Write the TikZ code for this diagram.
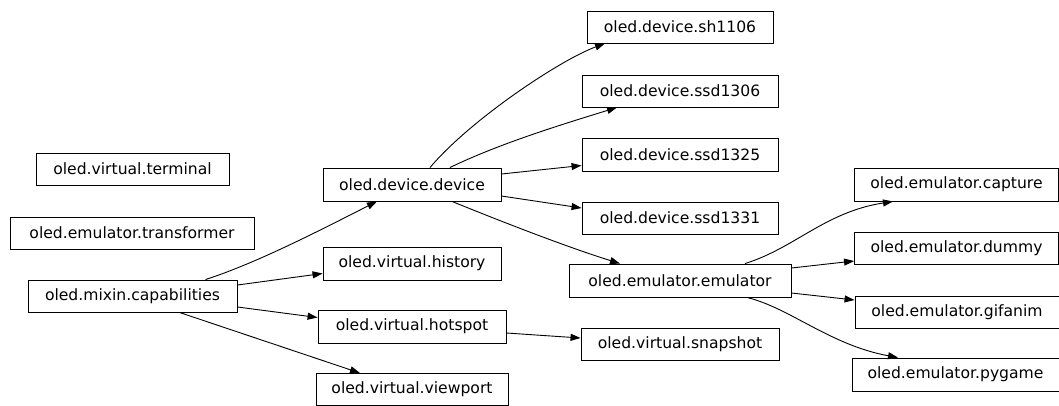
\documentclass[tikz,border=0pt]{standalone}
\usepackage{fontspec}
\setmainfont{DejaVu Sans}
\usetikzlibrary{arrows.meta}
\begin{document}
\begin{tikzpicture}[x=1pt,y=-1pt,
  box/.style={draw=black,line width=0.9pt,inner sep=0pt,minimum height=32pt,
    font=\fontsize{15.6}{18}\selectfont,anchor=center},
  edge/.style={line width=0.9pt,-{Triangle[length=10pt,width=7pt]}}]
\useasboundingbox (0,0) rectangle (1059,405);
\node[box,minimum width=193pt] (term) at (132.5,169) {oled.virtual.terminal};
\node[box,minimum width=244pt] (trans) at (132,233) {oled.emulator.transformer};
\node[box,minimum width=209pt] (cap) at (132.5,296) {oled.mixin.capabilities};
\node[box,minimum width=178pt,minimum height=33pt] (dev) at (412,184.5) {oled.device.device};
\node[box,minimum width=178pt,minimum height=33pt] (hist) at (412,263.5) {oled.virtual.history};
\node[box,minimum width=188pt,minimum height=33pt] (hot) at (412,326.5) {oled.virtual.hotspot};
\node[box,minimum width=192pt] (view) at (412,389.5) {oled.virtual.viewport};
\node[box,minimum width=186pt] (sh) at (680,27) {oled.device.sh1106};
\node[box,minimum width=196pt] (s06) at (680,91) {oled.device.ssd1306};
\node[box,minimum width=196pt,minimum height=33pt] (s25) at (680,154.5) {oled.device.ssd1325};
\node[box,minimum width=196pt] (s31) at (680,218) {oled.device.ssd1331};
\node[box,minimum width=222pt,minimum height=33pt] (emu) at (680,280.5) {oled.emulator.emulator};
\node[box,minimum width=198pt] (snap) at (680,344) {oled.virtual.snapshot};
\node[box,minimum width=204pt,minimum height=33pt] (capt) at (956.5,184.5) {oled.emulator.capture};
\node[box,minimum width=204pt] (dum) at (956.5,248) {oled.emulator.dummy};
\node[box,minimum width=204pt] (gif) at (957,312) {oled.emulator.gifanim};
\node[box,minimum width=207pt,minimum height=33pt] (pyg) at (955.5,374.5) {oled.emulator.pygame};
% edges
\draw[edge] ([xshift=-32pt]cap.north east) .. controls (260,262) and (330,225) .. ([xshift=-35pt]dev.south);
\draw[edge] ([yshift=11pt]cap.east) -- ([yshift=-10pt]hist.west);
\draw[edge] ([yshift=-11pt]cap.east) -- ([yshift=9pt]hot.west);
\draw[edge] ([xshift=47pt]cap.south) -- ([xshift=-52pt]view.north);
\draw[edge] ([xshift=18pt]dev.north) .. controls (470,120) and (560,60) .. ([xshift=-75pt]sh.south);
\draw[edge] ([xshift=38pt]dev.north) .. controls (500,143) and (570,122) .. ([xshift=-63pt]s06.south);
\draw[edge] ([yshift=10.5pt]dev.east) -- ([yshift=-11pt]s25.west);
\draw[edge] ([yshift=-11.5pt]dev.east) -- ([yshift=10pt]s31.west);
\draw[edge] ([xshift=40pt]dev.south) .. controls (510,225) and (570,248) .. ([xshift=-60pt]emu.north);
\draw[edge] ([yshift=-6.5pt]hot.east) -- ([yshift=6pt]snap.west);
\draw[edge] ([xshift=65pt]emu.north) .. controls (795,248) and (825,212) .. ([xshift=-63.5pt]capt.south);
\draw[edge] ([yshift=12.5pt]emu.east) -- ([yshift=-13pt]dum.west);
\draw[edge] ([yshift=-12.5pt]emu.east) -- ([yshift=12pt]gif.west);
\draw[edge] ([xshift=67pt]emu.south) .. controls (790,308) and (830,345) .. ([xshift=-57.5pt]pyg.north);
\end{tikzpicture}
\end{document}
